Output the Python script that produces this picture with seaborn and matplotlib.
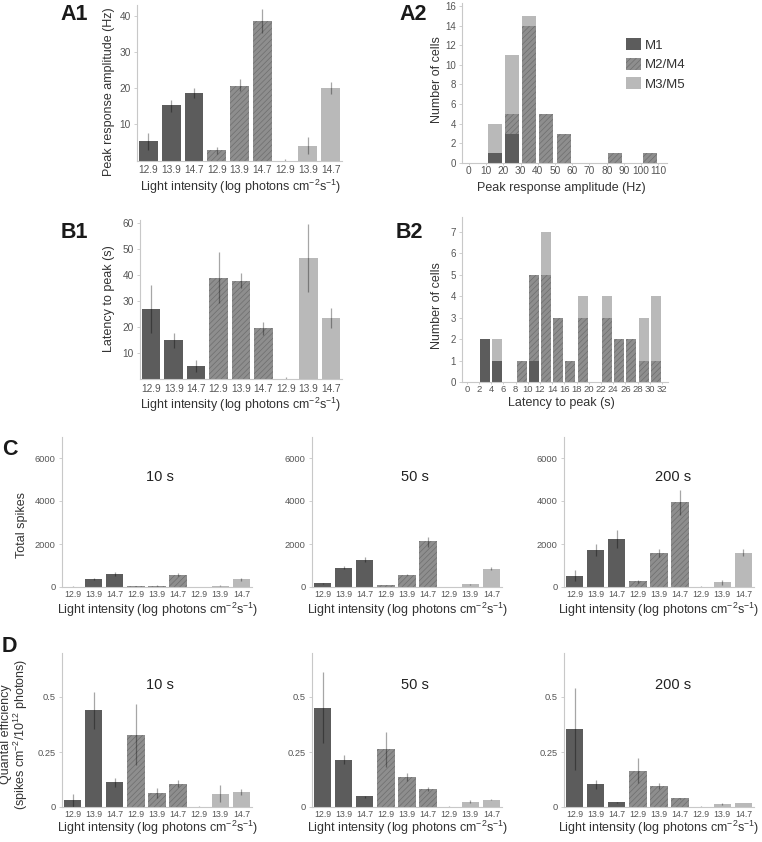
import numpy as np
import pandas as pd
import matplotlib
matplotlib.use("Agg")
import matplotlib.pyplot as plt
import seaborn as sns
from matplotlib.patches import Patch
from matplotlib.colors import to_rgba

sns.set_style("ticks")
plt.rcParams['font.family'] = ['Liberation Sans', 'DejaVu Sans']
plt.rcParams['mathtext.fontset'] = 'custom'
plt.rcParams['mathtext.rm'] = 'Liberation Sans'
plt.rcParams['mathtext.it'] = 'Liberation Sans:italic'
plt.rcParams['mathtext.bf'] = 'Liberation Sans:bold'
plt.rcParams['hatch.linewidth'] = 0.5

# ---------------- data ----------------
cell_types = ['M1', 'M2/M4', 'M3/M5']
intensity_ticks = ['12.9', '13.9', '14.7'] * 3

# A1 peak response amplitude (Hz)
a1_mean = [5.4, 15.3, 18.7, 2.8, 20.8, 38.6, 0.0, 4.0, 20.2]
a1_lo = [2.8, 13.4, 17.3, 1.9, 19.3, 35.3, 0.0, 1.7, 18.5]
a1_hi = [7.7, 16.7, 20.2, 3.8, 22.6, 42.0, 0.3, 6.4, 21.8]

# A2 histogram of peak amplitudes (bin centres, counts per type)
a2_bin_centres = [15, 25, 35, 45, 55, 85, 105]
a2_m1 = [1, 3, 0, 0, 0, 0, 0]
a2_m2 = [0, 2, 14, 5, 3, 1, 1]
a2_m3 = [3, 6, 1, 0, 0, 0, 0]

# B1 latency to peak (s)
b1_mean = [26.9, 15.0, 5.1, 38.9, 37.6, 19.5, 0.0, 46.3, 23.5]
b1_lo = [17.5, 11.8, 2.8, 29.0, 34.8, 16.9, 0.0, 33.5, 19.7]
b1_hi = [36.1, 17.8, 7.3, 48.9, 40.6, 22.0, 0.6, 59.4, 27.1]

# B2 histogram of latencies (bin centres, counts per type)
b2_bin_centres = [3, 5, 9, 11, 13, 15, 17, 19, 23, 25, 27, 29, 31]
b2_m1 = [2, 1, 0, 1, 0, 0, 0, 0, 0, 0, 0, 0, 0]
b2_m2 = [0, 0, 1, 4, 5, 3, 1, 3, 3, 2, 2, 1, 1]
b2_m3 = [0, 1, 0, 0, 2, 0, 0, 1, 1, 0, 0, 2, 3]

# C total spikes
c_titles = ['10 s', '50 s', '200 s']
c10_mean = [20, 385, 615, 30, 60, 570, 0, 50, 360]
c10_lo = [5, 330, 520, 20, 40, 500, 0, 30, 300]
c10_hi = [40, 440, 720, 40, 80, 650, 0, 70, 420]
c50_mean = [165, 905, 1250, 95, 580, 2140, 0, 125, 860]
c50_lo = [130, 830, 1140, 80, 540, 1880, 0, 100, 800]
c50_hi = [200, 985, 1380, 110, 620, 2340, 10, 150, 940]
c200_mean = [530, 1700, 2230, 260, 1580, 3950, 0, 230, 1600]
c200_lo = [260, 1420, 1810, 200, 1380, 3360, 0, 110, 1420]
c200_hi = [800, 2000, 2660, 310, 1780, 4520, 40, 340, 1780]

# D quantal efficiency
d10_mean = [0.034, 0.44, 0.114, 0.326, 0.064, 0.106, 0.0, 0.061, 0.068]
d10_lo = [0.0, 0.356, 0.091, 0.19, 0.042, 0.091, 0.0, 0.023, 0.053]
d10_hi = [0.061, 0.523, 0.133, 0.467, 0.085, 0.121, 0.005, 0.098, 0.083]
d50_mean = [0.45, 0.215, 0.048, 0.263, 0.135, 0.082, 0.0, 0.025, 0.032]
d50_lo = [0.289, 0.197, 0.043, 0.181, 0.117, 0.071, 0.0, 0.018, 0.030]
d50_hi = [0.615, 0.235, 0.052, 0.343, 0.154, 0.092, 0.005, 0.034, 0.035]
d200_mean = [0.355, 0.104, 0.022, 0.164, 0.096, 0.040, 0.0, 0.015, 0.018]
d200_lo = [0.168, 0.084, 0.019, 0.107, 0.084, 0.037, 0.0, 0.010, 0.016]
d200_hi = [0.543, 0.122, 0.025, 0.222, 0.107, 0.043, 0.005, 0.020, 0.020]

# ---------------- styles ----------------
col_m1, col_m2, col_m3 = '#5c5c5c', '#8e8e8e', '#b9b9b9'
hatch_col = '#6e6e6e'
palette = dict(zip(cell_types, [col_m1, col_m2, col_m3]))
spine_col = '#c8c8c8'
tick_col = '#555555'
label_col = '#333333'
err_col = (0, 0, 0, 0.35)

W, H = 762, 842
fig = plt.figure(figsize=(W / 100, H / 100), dpi=100)
fig.patch.set_facecolor('white')


def add_ax(left, bottom, width, height):
    return fig.add_axes([left / W, 1 - bottom / H, width / W, height / H])


def ftext(x, y, s, **kw):
    kw.setdefault('color', label_col)
    fig.text(x / W, 1 - y / H, s, **kw)


def hatch_m2(ax):
    target = to_rgba(col_m2)
    for p in ax.patches:
        if np.allclose(p.get_facecolor(), target, atol=0.01):
            p.set_hatch('//////')
            p.set_edgecolor(hatch_col)
            p.set_linewidth(0)


def style_ax(ax, xfs, yfs, xlen=0, xpad=3.5):
    sns.despine(ax=ax)
    for s in ['left', 'bottom']:
        ax.spines[s].set_color(spine_col)
        ax.spines[s].set_linewidth(0.8)
    ax.tick_params(axis='x', length=xlen, width=0.6, color=spine_col, pad=xpad,
                   labelsize=xfs, labelcolor=tick_col)
    ax.tick_params(axis='y', length=2.5, width=0.6, color=spine_col, pad=2,
                   labelsize=yfs, labelcolor=tick_col)
    ax.set_xlabel('')
    ax.set_ylabel('')


def bar_panel(ax, mean, lo, hi, xfs, yfs, xpad=3.5):
    df = pd.DataFrame({'pos': np.arange(len(mean)), 'val': mean,
                       'type': np.repeat(cell_types, 3)})
    sns.barplot(data=df, x='pos', y='val', hue='type', hue_order=cell_types,
                palette=palette, dodge=False, width=0.82, saturation=1,
                errorbar=None, legend=False, linewidth=0, ax=ax)
    hatch_m2(ax)
    ax.vlines(np.arange(len(mean)), lo, hi, color=err_col, lw=0.9)
    ax.set_xticks(np.arange(len(mean)))
    ax.set_xticklabels(intensity_ticks)
    ax.set_xlim(-0.5, len(mean) - 0.5)
    style_ax(ax, xfs, yfs, xpad=xpad)


def hist_panel(ax, centres, m1, m2, m3, bins, shrink, xfs, yfs):
    vals, types = [], []
    for t, counts in zip(cell_types, [m1, m2, m3]):
        v = np.repeat(np.asarray(centres, dtype=float), counts)
        vals.extend(v.tolist())
        types.extend([t] * len(v))
    df = pd.DataFrame({'value': vals, 'type': types})
    sns.histplot(data=df, x='value', hue='type',
                 hue_order=cell_types[::-1], palette=palette, bins=bins,
                 multiple='stack', shrink=shrink, alpha=1, linewidth=0,
                 legend=False, ax=ax)
    hatch_m2(ax)
    style_ax(ax, xfs, yfs, xlen=1.5, xpad=1)


xl_light = 'Light intensity (log photons cm$^{-2}$s$^{-1}$)'

# ---------------- A1 ----------------
ax = add_ax(137, 160.5, 205, 156)
bar_panel(ax, a1_mean, a1_lo, a1_hi, 7.3, 7.3)
ax.set_ylim(0, 43.3)
ax.set_yticks([10, 20, 30, 40])

# ---------------- A2 ----------------
ax = add_ax(462, 163, 205, 160)
hist_panel(ax, a2_bin_centres, a2_m1, a2_m2, a2_m3, np.arange(0, 111, 10),
           0.81, 7.3, 7)
ax.set_xlim(-4, 115)
ax.set_ylim(0, 16.3)
ax.set_xticks(np.arange(0, 111, 10))
ax.set_yticks(np.arange(0, 17, 2))
handles = [Patch(facecolor=col_m1, edgecolor='none'),
           Patch(facecolor=col_m2, edgecolor=hatch_col, hatch='//////', linewidth=0),
           Patch(facecolor=col_m3, edgecolor='none')]
fig.legend(handles, cell_types, loc='upper left',
           bbox_to_anchor=(626 / W, 1 - 38 / H), bbox_transform=fig.transFigure,
           frameon=False, fontsize=9.5, handlelength=1.1, handleheight=1.05,
           handletextpad=0.35, labelspacing=0.45, borderpad=0, borderaxespad=0,
           labelcolor=label_col)

# ---------------- B1 ----------------
ax = add_ax(140, 379, 202, 159)
bar_panel(ax, b1_mean, b1_lo, b1_hi, 7.3, 7.3)
ax.set_ylim(0, 61)
ax.set_yticks([10, 20, 30, 40, 50, 60])

# ---------------- B2 ----------------
ax = add_ax(462, 382, 206, 165)
hist_panel(ax, b2_bin_centres, b2_m1, b2_m2, b2_m3, np.arange(0, 33, 2),
           0.82, 6.8, 7)
ax.set_xlim(-0.8, 33)
ax.set_ylim(0, 7.7)
ax.set_xticks(np.arange(0, 33, 2))
ax.set_yticks(np.arange(0, 8, 1))

# ---------------- C / D ----------------
c_sets = [(c10_mean, c10_lo, c10_hi), (c50_mean, c50_lo, c50_hi),
          (c200_mean, c200_lo, c200_hi)]
d_sets = [(d10_mean, d10_lo, d10_hi), (d50_mean, d50_lo, d50_hi),
          (d200_mean, d200_lo, d200_hi)]
lefts = [62, 312, 564]
title_x = [160, 415, 673]
xlabel_x = [158, 408, 659]
for i in range(3):
    ax = add_ax(lefts[i], 587, 190, 150.5)
    bar_panel(ax, *c_sets[i], 6.3, 6.7, xpad=2.3)
    ax.set_ylim(0, 7000)
    ax.set_yticks([0, 2000, 4000, 6000])
    ftext(title_x[i], 477, c_titles[i], fontsize=10.5, ha='center', va='center',
          color='#222222')
    ftext(xlabel_x[i], 610, xl_light, fontsize=9, ha='center', va='center')

    ax = add_ax(lefts[i], 807, 190, 154)
    bar_panel(ax, *d_sets[i], 6.3, 6.7, xpad=2.3)
    ax.set_ylim(0, 0.7)
    ax.set_yticks([0, 0.25, 0.5])
    ax.set_yticklabels(['0', '0.25', '0.5'])
    ftext(title_x[i], 685, c_titles[i], fontsize=10.5, ha='center', va='center',
          color='#222222')
    ftext(xlabel_x[i], 828, xl_light, fontsize=9, ha='center', va='center')

# ---------------- labels ----------------
ftext(241, 187, xl_light, fontsize=9, ha='center', va='center')
ftext(561, 188, 'Peak response amplitude (Hz)', fontsize=9, ha='center', va='center')
ftext(241, 405, xl_light, fontsize=9, ha='center', va='center')
ftext(561, 403, 'Latency to peak (s)', fontsize=9, ha='center', va='center')

ftext(109, 92, 'Peak response amplitude (Hz)', fontsize=9, rotation=90,
      ha='center', va='center')
ftext(437, 80, 'Number of cells', fontsize=9, rotation=90, ha='center', va='center')
ftext(109, 299, 'Latency to peak (s)', fontsize=9, rotation=90, ha='center', va='center')
ftext(437, 306, 'Number of cells', fontsize=9, rotation=90, ha='center', va='center')
ftext(22, 525, 'Total spikes', fontsize=9, rotation=90, ha='center', va='center')
ftext(15, 734, 'Quantal efficiency\n(spikes cm$^{-2}$/10$^{12}$ photons)', fontsize=9,
      rotation=90, ha='center', va='center', multialignment='center',
      linespacing=0.95)

# panel letters
for s, x, y in [('A1', 60, 20), ('A2', 399, 20), ('B1', 61, 238), ('B2', 396, 238),
                ('C', 2, 455), ('D', 2, 652)]:
    ftext(x, y, s, fontsize=15.5, fontweight='bold', ha='left', va='baseline',
          color='#1a1a1a')

fig.savefig('out.png', dpi=100)
